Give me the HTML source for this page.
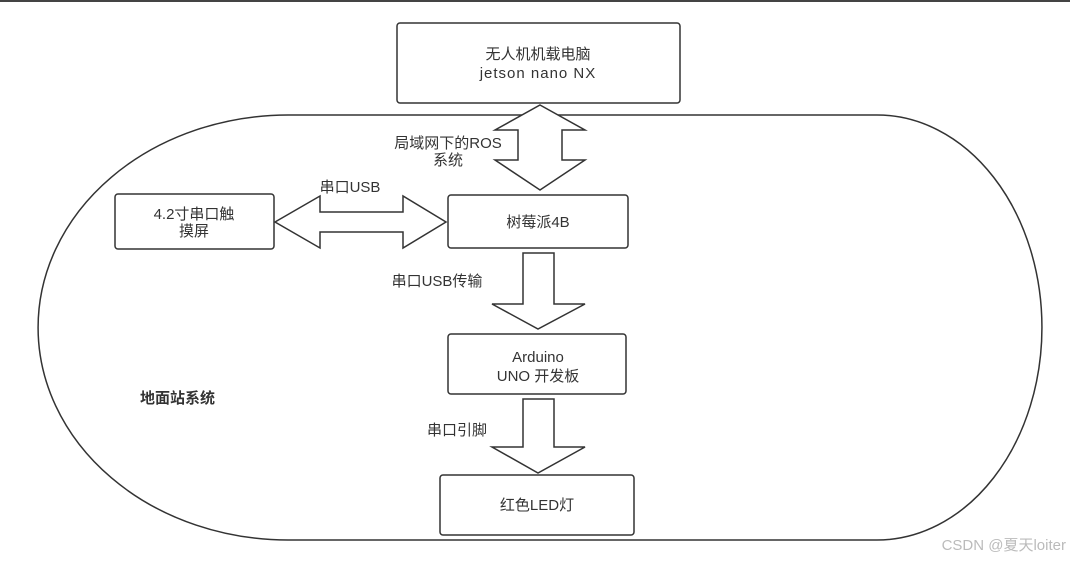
<!DOCTYPE html>
<html><head><meta charset="utf-8"><style>
body{margin:0;background:#fff;}
svg text{font-family:"Liberation Sans","Noto Sans CJK SC",sans-serif;fill:#333;font-size:15px;}
</style></head><body>
<svg width="1070" height="560" viewBox="0 0 1070 560" xmlns="http://www.w3.org/2000/svg">
<rect x="0" y="0" width="1070" height="2" fill="#444"/>
<path d="M288 115 L877 115 A165 212.5 0 0 1 877 540 L288 540 A250 212.5 0 0 1 288 115 Z" fill="none" stroke="#333" stroke-width="1.5"/>
<g fill="#fff" stroke="#333" stroke-width="1.5">
<rect x="397" y="23" width="283" height="80" rx="3"/>
<rect x="115" y="194" width="159" height="55" rx="3"/>
<rect x="448" y="195" width="180" height="53" rx="3"/>
<rect x="448" y="334" width="178" height="60" rx="3"/>
<rect x="440" y="475" width="194" height="60" rx="3"/>
<path d="M540 105 L585 130 L562 130 L562 160 L585 160 L540 190 L495 160 L518 160 L518 130 L495 130 Z"/>
<path d="M275 222 L320 196 L320 212 L403 212 L403 196 L446 222 L403 248 L403 232 L320 232 L320 248 Z"/>
<path d="M523 253 L554 253 L554 304 L585 304 L538 329 L492 304 L523 304 Z"/>
<path d="M523 399 L554 399 L554 447 L585 447 L538 473 L492 447 L523 447 Z"/>
</g>
<text x="538" y="59" text-anchor="middle" font-size="16">无人机机载电脑</text>
<text x="538" y="78" text-anchor="middle" font-size="16" letter-spacing="1">jetson nano NX</text>
<text x="448" y="148" text-anchor="middle">局域网下的ROS</text>
<text x="448" y="165" text-anchor="middle">系统</text>
<text x="350" y="192" text-anchor="middle">串口USB</text>
<text x="194" y="219" text-anchor="middle">4.2寸串口触</text>
<text x="194" y="236" text-anchor="middle">摸屏</text>
<text x="538" y="227" text-anchor="middle">树莓派4B</text>
<text x="437" y="286" text-anchor="middle">串口USB传输</text>
<text x="538" y="362" text-anchor="middle" font-size="16">Arduino</text>
<text x="538" y="381" text-anchor="middle" font-size="16">UNO 开发板</text>
<text x="457" y="435" text-anchor="middle">串口引脚</text>
<text x="537" y="510" text-anchor="middle">红色LED灯</text>
<text x="140" y="403" font-weight="bold" font-size="14">地面站系统</text>
<text x="1066" y="550" text-anchor="end" font-size="18" style="fill:#bbb">CSDN @夏天loiter</text>
</svg>
</body></html>
